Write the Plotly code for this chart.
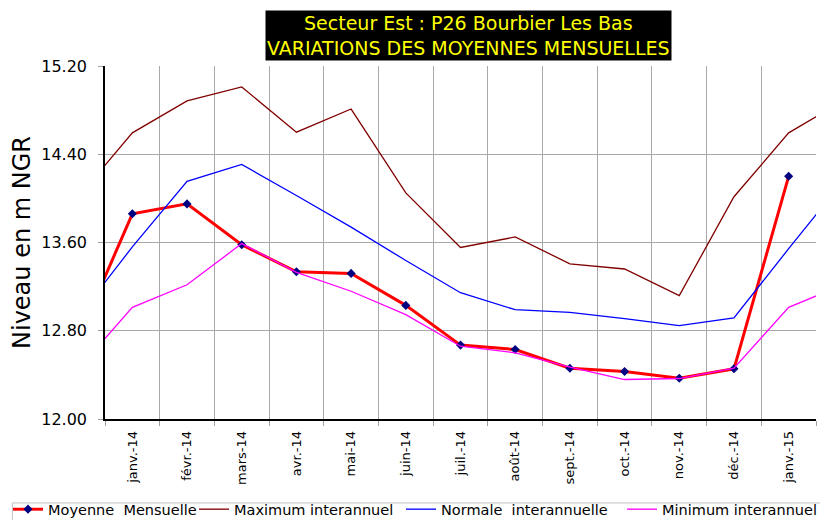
import plotly.graph_objects as go

months = ["déc.-13", "janv.-14", "févr.-14", "mars-14", "avr.-14", "mai-14", "juin-14",
          "juil.-14", "août-14", "sept.-14", "oct.-14", "nov.-14", "déc.-14",
          "janv.-15", "févr.-15"]

moyenne = [12.72, 13.86, 13.95, 13.58, 13.335, 13.32, 13.03, 12.67, 12.63,
           12.46, 12.43, 12.37, 12.455, 14.20, None]
maximum = [14.006, 14.594, 14.884, 15.01, 14.60, 14.81, 14.05, 13.555, 13.65,
           13.407, 13.36, 13.118, 14.015, 14.594, 14.886]
normale = [12.92, 13.56, 14.155, 14.308, 14.026, 13.739, 13.437, 13.145, 12.991,
           12.967, 12.91, 12.846, 12.916, 13.544, 14.158]
minimum = [12.448, 13.012, 13.217, 13.59, 13.33, 13.158, 12.946, 12.66, 12.60,
           12.47, 12.358, 12.367, 12.46, 13.012, 13.218]

y_ticks = [12.0, 12.8, 13.6, 14.4, 15.2]

FONT = "DejaVu Sans"
W, H = 820, 512  # page body has an 8px margin

fig = go.Figure()
fig.add_trace(go.Scatter(x=months, y=moyenne, name="Moyenne\u00a0 Mensuelle",
                         mode="lines+markers", legend="legend",
                         line=dict(color="#FF0000", width=3),
                         marker=dict(symbol="diamond", size=7, color="#000080")))
fig.add_trace(go.Scatter(x=months, y=maximum, name="Maximum interannuel",
                         mode="lines", legend="legend2",
                         line=dict(color="#800000", width=1.3)))
fig.add_trace(go.Scatter(x=months, y=normale, name="Normale\u00a0 interannuelle",
                         mode="lines", legend="legend3",
                         line=dict(color="#0000FF", width=1.3)))
fig.add_trace(go.Scatter(x=months, y=minimum, name="Minimum interannuel",
                         mode="lines", legend="legend4",
                         line=dict(color="#FF00FF", width=1.3)))


def leg(xpix):
    return dict(orientation="h", xref="container", yref="container",
                x=xpix / W, y=0.021, xanchor="left", yanchor="middle",
                font=dict(size=14.5, family=FONT), bgcolor="rgba(0,0,0,0)",
                borderwidth=0, itemwidth=30)


fig.update_layout(
    width=W, height=H,
    margin=dict(l=97, r=12, t=58, b=101, autoexpand=False),
    paper_bgcolor="white", plot_bgcolor="white",
    font=dict(family=FONT, color="black"),
    showlegend=True,
    legend=leg(-7), legend2=leg(186), legend3=leg(393), legend4=leg(614),
    shapes=[dict(type="rect", xref="paper", yref="paper",
                 x0=-0.1303, x1=1.03, y0=-0.2378, y1=-0.30,
                 line=dict(color="#c0c0c0", width=1), fillcolor="rgba(0,0,0,0)",
                 layer="below")],
    annotations=[dict(
        text="Secteur Est : P26 Bourbier Les Bas<br>VARIATIONS DES MOYENNES MENSUELLES",
        xref="paper", yref="paper", x=0.5115, y=1.085, xanchor="center", yanchor="middle",
        showarrow=False, bgcolor="black", borderpad=1,
        font=dict(color="#FFFF00", size=19, family=FONT))],
)

fig.update_xaxes(
    type="category", range=[0.5, 13.5], tickson="boundaries",
    tickangle=-90, tickfont=dict(size=13, family=FONT),
    ticks="outside", ticklen=5, tickcolor="#a0a0a0",
    showgrid=True, gridcolor="#a8a8a8", gridwidth=1,
    showline=True, linecolor="black", linewidth=1.5,
    ticklabelstandoff=5, automargin=False,
)
fig.update_yaxes(
    range=[12.0, 15.2], tickvals=y_ticks, tickformat=".2f",
    tickfont=dict(size=16, family=FONT),
    ticks="outside", ticklen=5, tickcolor="#a0a0a0",
    showgrid=True, gridcolor="#a8a8a8", gridwidth=1,
    showline=True, linecolor="black", linewidth=1.5,
    zeroline=False, ticklabelstandoff=8, automargin=False,
    title=dict(text="Niveau en m NGR", font=dict(size=24, family=FONT), standoff=5),
)

fig.write_html("out.html")
